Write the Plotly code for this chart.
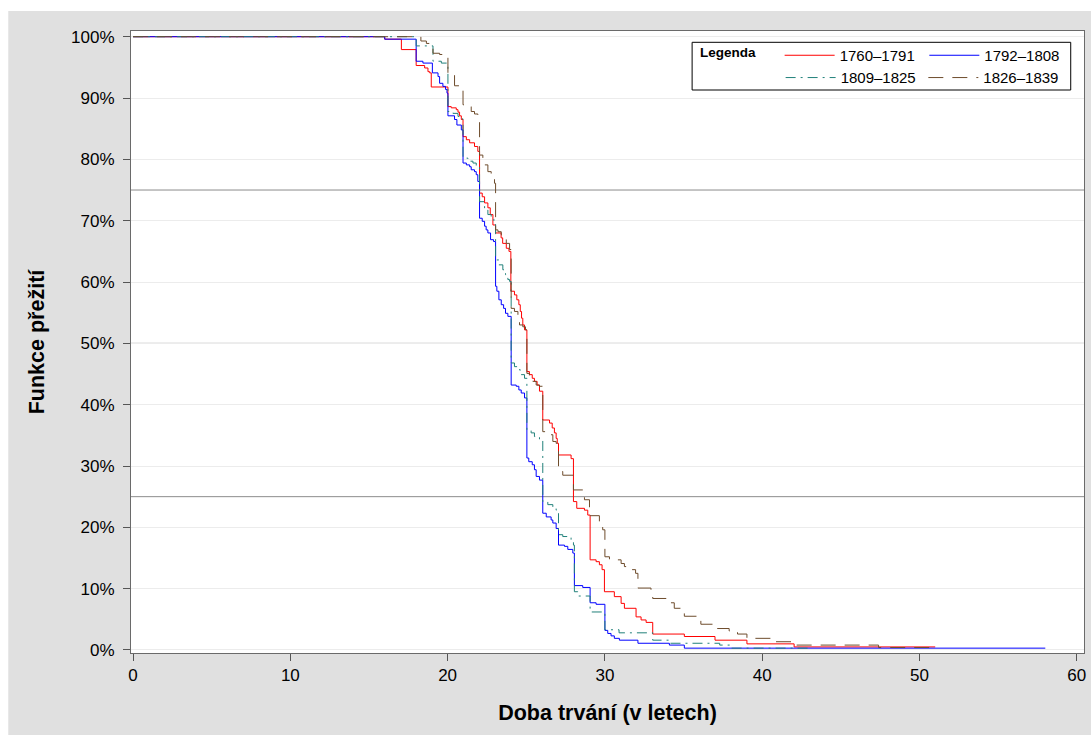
import plotly.graph_objects as go

# ---------------- data (Kaplan-Meier step curves, survival in %) ----------------
red_t = [0, 16.0, 17.06, 18.0, 18.54, 18.75, 18.86, 18.96, 20.02, 20.23, 20.55, 20.66, 20.76, 20.87,
         20.98, 21.19, 21.4, 21.71, 21.92, 22.03, 22.2, 22.35, 22.56, 22.71, 22.88, 23.05, 23.4, 23.5,
         23.73, 23.9, 24.02, 24.25, 24.4, 24.53, 24.62, 24.7, 24.78, 24.89, 25.04, 25.2, 25.38, 25.52,
         25.69, 25.84, 26.05, 26.48, 26.65, 26.79, 26.9, 26.97, 27.05, 27.85, 28.0, 28.21, 28.7, 28.91,
         29.06, 29.44, 29.65, 29.82, 29.97, 30.6, 31.03, 31.24, 31.98, 32.3, 32.62, 33.04, 35.05, 37.0,
         39.03, 42.03, 51.0]
red_s = [100, 99.6, 97.9, 95.3, 94.9, 94.3, 94.1, 91.8, 88.6, 88.4, 88.1, 87.7, 87.1, 86.5,
         83.7, 83.2, 82.7, 82.1, 81.3, 74.5, 73.9, 72.9, 72.1, 71.0, 69.3, 68.0, 67.2, 66.3,
         65.5, 65.0, 58.5, 57.9, 57.1, 56.3, 55.2, 54.1, 53.0, 52.2, 45.4, 44.9, 44.3, 43.8,
         43.2, 42.2, 37.5, 37.0, 36.2, 35.4, 34.5, 33.7, 31.8, 31.2, 24.2, 23.1, 22.8, 22.0,
         14.7, 14.4, 13.9, 13.1, 9.5, 8.7, 7.6, 6.8, 5.4, 4.9, 4.5, 2.6, 2.2, 1.6,
         1.0, 0.5, 0.5]

blue_t = [0, 16.0, 18.0, 18.43, 19.03, 19.39, 19.49, 19.70, 19.87, 19.96, 20.02, 20.44, 20.59, 20.87,
          20.98, 21.19, 21.4, 21.5, 21.71, 21.82, 21.92, 22.03, 22.2, 22.35, 22.45, 22.56, 22.73, 22.92,
          23.05, 23.13, 23.26, 23.41, 23.56, 23.68, 23.83, 24.04, 24.36, 24.53, 24.68, 24.89, 25.04,
          25.16, 25.38, 25.52, 25.63, 25.84, 26.05, 26.27, 26.58, 26.69, 26.9, 27.05, 27.43, 27.64,
          27.96, 28.06, 28.59, 29.06, 29.44, 30.0, 30.18, 30.39, 30.6, 30.92, 32.1, 34.1, 35.05, 58.0]
blue_s = [100, 99.6, 96.0, 95.7, 94.1, 93.5, 92.4, 91.9, 91.4, 90.8, 87.1, 86.5, 85.6, 84.8,
          79.4, 79.1, 78.8, 78.3, 78.0, 77.5, 76.4, 70.4, 69.9, 69.1, 68.5, 68.0, 66.9, 66.6,
          59.3, 58.5, 57.1, 56.3, 55.7, 54.9, 54.4, 43.2, 43.0, 42.4, 41.9, 41.1, 31.3,
          30.7, 30.2, 29.4, 28.3, 27.7, 22.3, 21.7, 21.2, 20.7, 19.8, 17.1, 16.9, 16.4,
          15.8, 10.5, 10.2, 7.7, 7.45, 3.2, 2.7, 2.3, 1.9, 1.6, 1.1, 0.8, 0.3, 0.3]

teal_t = [0, 18.0, 19.07, 19.6, 20.02, 20.34, 20.66, 20.87, 20.98, 21.29, 21.61, 21.82, 22.03, 22.35,
          22.56, 22.77, 22.94, 23.05, 23.26, 23.51, 23.68, 23.83, 23.94, 24.04, 24.25, 24.47, 24.62,
          24.89, 25.04, 25.31, 25.52, 25.84, 26.05, 26.37, 26.69, 26.9, 27.05, 27.32, 27.85, 28.0,
          28.06, 28.28, 29.06, 30.0, 30.9, 33.04, 34.1, 37.3, 38.0, 43.2]
teal_s = [100, 98.5, 96.0, 95.7, 87.8, 87.5, 87.0, 86.6, 80.2, 79.7, 79.4, 78.8, 73.1, 71.8,
          71.0, 70.4, 69.9, 63.6, 62.8, 62.0, 61.2, 60.4, 60.1, 46.8, 46.2, 45.7, 44.9,
          44.3, 35.9, 35.4, 34.8, 34.3, 24.2, 23.7, 23.1, 22.8, 18.8, 18.5, 17.9, 17.1,
          9.5, 8.8, 6.2, 3.3, 2.8, 1.6, 1.1, 0.8, 0.3, 0.3]

brown_t = [0, 18.3, 18.65, 19.07, 19.49, 19.81, 20.02, 20.44, 20.98, 21.19, 21.5, 21.71, 21.92, 22.03,
           22.24, 22.35, 22.56, 22.77, 22.98, 23.05, 23.2, 23.41, 23.51, 23.73, 23.94, 24.04, 24.25,
           24.47, 24.57, 24.78, 24.95, 25.04, 25.2, 25.42, 25.63, 25.84, 26.05, 26.27, 26.69, 26.9,
           27.05, 27.32, 28.0, 28.7, 29.02, 29.65, 29.86, 30.0, 30.29, 31.03, 31.24, 31.56, 31.95,
           32.1, 32.93, 33.04, 34.0, 34.41, 35.05, 36.1, 36.95, 37.9, 38.43, 39.03, 40.55, 42.03,
           47.4, 51.0]
brown_s = [100, 99.3, 98.9, 97.3, 97.1, 96.8, 94.1, 92.0, 88.9, 88.6, 87.8, 87.4, 86.5, 80.7,
           80.2, 79.1, 78.0, 77.2, 76.1, 68.5, 68.2, 67.7, 67.2, 66.3, 65.3, 55.7, 55.2,
           54.4, 53.0, 52.7, 52.2, 45.1, 44.6, 43.8, 43.2, 43.0, 35.6, 35.1, 34.0, 33.7,
           29.1, 28.5, 26.1, 24.5, 21.9, 20.1, 19.6, 15.2, 14.7, 14.1, 13.6, 13.1, 12.5,
           10.1, 9.8, 8.4, 7.7, 6.8, 5.5, 4.2, 3.5, 3.1, 2.6, 1.9, 1.35, 0.8,
           0.4, 0.4]

series_names = ["1760\u20131791", "1792\u20131808", "1809\u20131825", "1826\u20131839"]
x_ticks = [0, 10, 20, 30, 40, 50, 60]
y_ticks = [0, 10, 20, 30, 40, 50, 60, 70, 80, 90, 100]
y_ticktext = [f"{v}%" for v in y_ticks]
ref_levels = [25, 50, 75]

# ---------------- layout geometry (page pixels; page margin removed below) ----------------
W, H = 1091, 735
ML, MR, MT, MB = 131, 5, 31, 82
PW = W - ML - MR
PH = H - MT - MB


def fx(px):
    return (px - ML) / PW


def fy(py):
    return (H - MB - py) / PH


FONT = "Liberation Sans, Arial, sans-serif"

styles = [
    dict(color="#ff0000", width=1, dash="solid"),
    dict(color="#0000ff", width=1, dash="solid"),
    dict(color="#21807a", width=1, dash="10px,5px,2px,5px"),
    dict(color="#6e4c2c", width=1, dash="15px,9px"),
]
legend_ids = ["legend", "legend2", "legend3", "legend4"]
legend_pos = [(781, 55.5), (926, 55.5), (782, 77.8), (925, 77.8)]

fig = go.Figure()
for (t, s), name, st, lid in zip([(red_t, red_s), (blue_t, blue_s), (teal_t, teal_s), (brown_t, brown_s)],
                                 series_names, styles, legend_ids):
    fig.add_trace(go.Scatter(x=t, y=s, mode="lines", line_shape="hv", line=st,
                             name=name, legend=lid, hoverinfo="skip"))

legends = {}
for lid, (px, py) in zip(legend_ids, legend_pos):
    legends[lid] = dict(orientation="v", bgcolor="rgba(0,0,0,0)", borderwidth=0,
                        font=dict(family=FONT, size=15, color="#000000"),
                        itemwidth=50, xanchor="left", yanchor="middle", tracegroupgap=0,
                        x=fx(px), y=fy(py))

shapes = [
    # white strips outside the grey chart background (top and left)
    dict(type="rect", xref="paper", yref="paper", x0=fx(-2), x1=fx(W + 2), y0=fy(11), y1=fy(-2),
         fillcolor="#ffffff", line=dict(width=0), layer="below"),
    dict(type="rect", xref="paper", yref="paper", x0=fx(-2), x1=fx(8), y0=fy(H + 2), y1=fy(-2),
         fillcolor="#ffffff", line=dict(width=0), layer="below"),
    # legend frame
    dict(type="rect", xref="paper", yref="paper", x0=fx(693.3), x1=fx(1072.7), y0=fy(90), y1=fy(42.3),
         fillcolor="#ffffff", line=dict(color="#000000", width=1), layer="below"),
]
for lv in ref_levels:
    shapes.append(dict(type="line", xref="paper", yref="y", x0=0, x1=1, y0=lv, y1=lv,
                       line=dict(color="#8c8c8c", width=1), layer="between"))

fig.update_layout(
    width=W, height=H,
    margin=dict(l=ML, r=MR, t=MT, b=MB, pad=0),
    paper_bgcolor="#e0e0e0",
    plot_bgcolor="#ffffff",
    showlegend=True,
    font=dict(family=FONT, color="#000000"),
    shapes=shapes,
    annotations=[dict(text="Legenda", xref="paper", yref="paper", x=fx(699), y=fy(53),
                      xanchor="left", yanchor="middle", showarrow=False,
                      font=dict(family=FONT, size=13.5, color="#000000", weight="bold"))],
    xaxis=dict(range=[-0.13, 60.46], tickmode="array", tickvals=x_ticks, ticks="outside", ticklen=7,
               tickwidth=1, tickcolor="#555555", showline=True, linecolor="#6a6a6a", linewidth=1,
               mirror=True, showgrid=False, zeroline=False,
               tickfont=dict(family=FONT, size=17, color="#000000"),
               title=dict(text="Doba trvání (v letech)", standoff=20,
                          font=dict(family=FONT, size=21.5, color="#000000", weight="bold"))),
    yaxis=dict(range=[-0.49, 100.93], tickmode="array", tickvals=y_ticks, ticktext=y_ticktext,
               ticks="outside", ticklen=7,
               tickwidth=1, tickcolor="#555555", showline=True, linecolor="#6a6a6a", linewidth=1,
               mirror=True, showgrid=True, gridcolor="#ececec", gridwidth=1, zeroline=False,
               ticklabelstandoff=5,
               tickfont=dict(family=FONT, size=17, color="#000000"),
               title=dict(text="Funkce přežití", standoff=20,
                          font=dict(family=FONT, size=21.5, color="#000000", weight="bold"))),
    **legends,
)

fig.write_html(
    "out.html",
    config={"displayModeBar": False},
    post_script=("document.documentElement.style.margin='0';document.body.style.margin='0';"
                 "document.body.style.padding='0';document.documentElement.style.overflow='hidden';"
                 "document.body.style.overflow='hidden';"),
)
